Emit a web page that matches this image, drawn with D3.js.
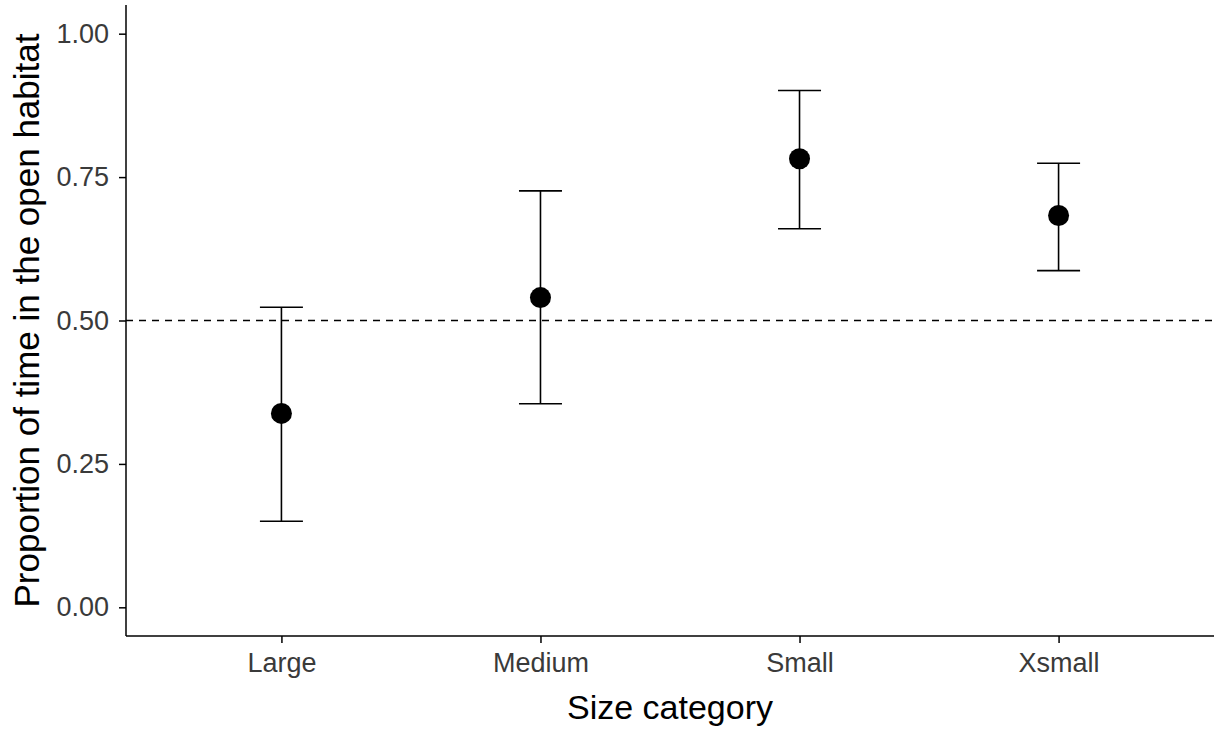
<!DOCTYPE html>
<html>
<head>
<meta charset="utf-8">
<script src="https://cdn.jsdelivr.net/npm/d3@7"></script>
<style>
  html, body { margin: 0; padding: 0; background: #ffffff; }
  svg { display: block; font-family: "Liberation Sans", Arial, Helvetica, sans-serif; }
</style>
</head>
<body>
<svg id="chart" width="1221" height="732"></svg>
<script>
// Size categories and their estimated proportion of time in open habitat
const categories = ["Large", "Medium", "Small", "Xsmall"];
const estimates  = [0.338, 0.540, 0.782, 0.683];
const lowerCI    = [0.150, 0.355, 0.660, 0.587];
const upperCI    = [0.523, 0.726, 0.901, 0.774];
const yTicks     = [0, 0.25, 0.5, 0.75, 1];
const referenceLevel = 0.5;

const svg = d3.select("#chart");

const panel = { left: 126, right: 1214, top: 5, bottom: 636 };

const x = d3.scalePoint()
  .domain(categories)
  .range([panel.left, panel.right])
  .padding(0.6);

const y = d3.scaleLinear()
  .domain([-0.05, 1.05])
  .range([panel.bottom, panel.top]);

const rows = categories.map((c, i) => ({
  cat: c, est: estimates[i], lo: lowerCI[i], hi: upperCI[i]
}));

// Reference line at 0.5
svg.append("line")
  .attr("x1", panel.left).attr("x2", panel.right)
  .attr("y1", y(referenceLevel)).attr("y2", y(referenceLevel))
  .attr("stroke", "#000").attr("stroke-width", 1.5)
  .attr("stroke-dasharray", "7,6");

// Error bars
const capHalf = 21.5;
const eb = svg.append("g").attr("stroke", "#000").attr("stroke-width", 1.6).attr("fill", "none");
eb.selectAll("line.v").data(rows).join("line").attr("class", "v")
  .attr("x1", d => x(d.cat)).attr("x2", d => x(d.cat))
  .attr("y1", d => y(d.lo)).attr("y2", d => y(d.hi));
eb.selectAll("line.top").data(rows).join("line").attr("class", "top")
  .attr("x1", d => x(d.cat) - capHalf).attr("x2", d => x(d.cat) + capHalf)
  .attr("y1", d => y(d.hi)).attr("y2", d => y(d.hi));
eb.selectAll("line.bot").data(rows).join("line").attr("class", "bot")
  .attr("x1", d => x(d.cat) - capHalf).attr("x2", d => x(d.cat) + capHalf)
  .attr("y1", d => y(d.lo)).attr("y2", d => y(d.lo));

// Point estimates
svg.append("g").selectAll("circle").data(rows).join("circle")
  .attr("cx", d => x(d.cat)).attr("cy", d => y(d.est))
  .attr("r", 10.5).attr("fill", "#000");

// Axes
const xAxis = svg.append("g")
  .attr("transform", `translate(0,${panel.bottom})`)
  .call(d3.axisBottom(x).tickSizeOuter(0).tickSize(7).tickPadding(10));
const yAxis = svg.append("g")
  .attr("transform", `translate(${panel.left},0)`)
  .call(d3.axisLeft(y).tickValues(yTicks).tickFormat(d3.format(".2f")).tickSizeOuter(0).tickSize(7).tickPadding(10));

[xAxis, yAxis].forEach(g => {
  g.select(".domain").attr("stroke", "#000").attr("stroke-width", 1.5);
  g.selectAll(".tick line").attr("stroke", "#000").attr("stroke-width", 1.5);
  g.selectAll(".tick text").attr("fill", "#3a3a3a").attr("font-size", 27)
    .attr("font-family", '"Liberation Sans", Arial, sans-serif');
});
// Extend axis lines to the panel edges
xAxis.select(".domain").attr("d", `M${panel.left},0H${panel.right}`);
yAxis.select(".domain").attr("d", `M0,${panel.top}V${panel.bottom}`);

// Axis titles
svg.append("text")
  .attr("x", (panel.left + panel.right) / 2).attr("y", 719)
  .attr("text-anchor", "middle").attr("font-size", 34).attr("fill", "#000")
  .text("Size category");

svg.append("text")
  .attr("transform", `translate(39,${(panel.top + panel.bottom) / 2}) rotate(-90)`)
  .attr("text-anchor", "middle").attr("font-size", 35).attr("fill", "#000")
  .text("Proportion of time in the open habitat");
</script>
</body>
</html>
